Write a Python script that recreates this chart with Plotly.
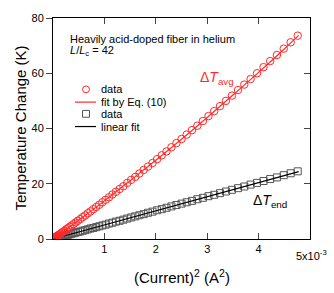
import plotly.graph_objects as go

# ---- data ----
current_mA = [1, 2, 3, 4, 5, 6, 7, 8, 9, 10, 11, 12, 13, 14, 15, 16, 17, 18, 19, 20,
              21, 22, 23, 24, 25, 26, 27, 28, 29, 30, 31, 32, 33, 34, 35, 36, 37, 38, 39, 40,
              41, 42, 43, 44, 45, 46, 47, 48, 49, 50, 51, 52, 53, 54, 55, 56, 57, 58, 59, 60,
              61, 62, 63, 64, 65, 66, 67, 68, 69]
current_sq = [(i * 1e-3) ** 2 for i in current_mA]

dT_avg = [0.0, 0.1, 0.1, 0.2, 0.3, 0.5, 0.7, 0.9, 1.1, 1.3, 1.6, 1.9, 2.3, 2.6, 3.0, 3.5, 3.9, 4.4, 4.9, 5.4,
          6.0, 6.6, 7.2, 7.9, 8.5, 9.3, 10.0, 10.8, 11.6, 12.4, 13.3, 14.2, 15.1, 16.1, 17.1, 18.1, 19.1, 20.3, 21.4, 22.5,
          23.7, 25.0, 26.2, 27.5, 28.9, 30.3, 31.7, 33.2, 34.7, 36.2, 37.8, 39.4, 41.0, 42.7, 44.5, 46.3, 48.1, 50.0, 51.9, 53.9,
          55.9, 57.9, 60.0, 62.2, 64.4, 66.6, 68.9, 71.2, 73.6]

dT_end = [0.0, 0.0, 0.1, 0.1, 0.1, 0.2, 0.3, 0.3, 0.4, 0.5, 0.6, 0.7, 0.9, 1.0, 1.2, 1.3, 1.5, 1.7, 1.9, 2.1,
          2.3, 2.5, 2.7, 3.0, 3.2, 3.5, 3.8, 4.0, 4.3, 4.6, 4.9, 5.2, 5.6, 5.9, 6.3, 6.6, 7.0, 7.4, 7.8, 8.2,
          8.6, 9.0, 9.5, 9.9, 10.4, 10.8, 11.3, 11.8, 12.3, 12.8, 13.3, 13.8, 14.4, 14.9, 15.5, 16.0, 16.6, 17.2, 17.8, 18.4,
          19.0, 19.7, 20.3, 21.0, 21.7, 22.3, 23.1, 23.8, 24.5]

fit_x = [0.0, 0.0005, 0.001, 0.0015, 0.002, 0.0025, 0.003, 0.0035, 0.004, 0.0045, 0.00478]
fit_avg = [0.0, 6.8, 13.8, 21.1, 28.5, 36.1, 44.0, 52.1, 60.3, 68.8, 73.7]

lin_x = [0.0, 0.00478]
lin_end = [0.0, 24.4]

x_tickvals = [0.001, 0.002, 0.003, 0.004]
x_ticktext = ["1", "2", "3", "4"]
y_tickvals = [0, 20, 40, 60, 80]

# ---- layout geometry (pixels) ----
W, H = 334, 293
L, R, T, B = 53, 310, 13, 239


def px(x):
    return (x - L) / (R - L)


def py(y):
    return (B - y) / (B - T)


FONT = "Liberation Sans, Arial, sans-serif"
RED = "#ff2a2a"

fig = go.Figure()
fig.add_trace(go.Scatter(x=current_sq, y=dT_end, mode="markers",
                         marker=dict(symbol="square-open", size=7, color="#555555", line=dict(width=1)),
                         showlegend=False))
fig.add_trace(go.Scatter(x=lin_x, y=lin_end, mode="lines", line=dict(color="black", width=1.2),
                         showlegend=False))
fig.add_trace(go.Scatter(x=current_sq, y=dT_avg, mode="markers",
                         marker=dict(symbol="circle-open", size=7.5, color=RED, line=dict(width=1)),
                         showlegend=False))
fig.add_trace(go.Scatter(x=fit_x, y=fit_avg, mode="lines", line=dict(color=RED, width=1.2, shape="spline"),
                         showlegend=False))
fig.add_trace(go.Scatter(x=[None], y=[None], yaxis="y2", showlegend=False))

shapes = [
    dict(type="circle", xref="paper", yref="paper", x0=px(82.5), x1=px(89.5), y0=py(89.5), y1=py(82.5),
         line=dict(color=RED, width=1)),
    dict(type="line", xref="paper", yref="paper", x0=px(75), x1=px(96), y0=py(99), y1=py(99),
         line=dict(color=RED, width=1.2)),
    dict(type="rect", xref="paper", yref="paper", x0=px(82.5), x1=px(89.5), y0=py(114.5), y1=py(107.5),
         line=dict(color="#555555", width=1)),
    dict(type="line", xref="paper", yref="paper", x0=px(75), x1=px(96), y0=py(124), y1=py(124),
         line=dict(color="black", width=1.2)),
]

def ann(text, x, y, size=11, color="black", xanchor="left", **kw):
    return dict(text=text, x=px(x), y=py(y), xref="paper", yref="paper", showarrow=False,
                xanchor=xanchor, yanchor="middle", font=dict(family=FONT, size=size, color=color), **kw)

annotations = [
    ann("Heavily acid-doped fiber in helium", 68, 34),
    ann("<i>L</i>/<i>L</i><sub>c</sub> = 42", 68, 47),
    ann("data", 99, 86),
    ann("fit by Eq. (10)", 99, 99),
    ann("data", 99, 111),
    ann("linear fit", 99, 124),
    ann("Δ<i>T</i><sub>avg</sub>", 198, 74, size=14, color=RED),
    ann("Δ<i>T</i><sub>end</sub>", 251, 200, size=14),
    ann("5x10<sup>-3</sup>", 294, 255),
    ann("(Current)<sup>2</sup> (A<sup>2</sup>)", 182, 277, size=15, xanchor="center"),
    ann("Temperature Change (K)", 20, 126, size=15, xanchor="center", textangle=-90),
]

fig.update_layout(
    width=W, height=H,
    margin=dict(l=L, r=W - R, t=T, b=H - B),
    paper_bgcolor="white", plot_bgcolor="white",
    font=dict(family=FONT, size=11, color="black"),
    shapes=shapes, annotations=annotations,
    xaxis=dict(range=[0, 0.005], tickvals=x_tickvals, ticktext=x_ticktext, ticks="inside", ticklen=6,
               showline=True, linecolor="black", linewidth=1, mirror="ticks", showgrid=False,
               zeroline=False, tickfont=dict(size=11)),
    yaxis=dict(range=[0, 80], tickvals=y_tickvals, ticks="outside", ticklen=6, showline=True,
               linecolor="black", linewidth=1, mirror=True, showgrid=False, zeroline=False,
               tickfont=dict(size=11)),
    yaxis2=dict(range=[0, 80], overlaying="y", side="right", tickvals=[20, 40, 60], ticks="inside",
                ticklen=6, showticklabels=False, showline=False, showgrid=False, zeroline=False),
    showlegend=False,
)

fig.write_html("out.html", config={"displayModeBar": False},
               post_script="document.body.style.margin='0px';document.body.style.overflow='hidden';")
